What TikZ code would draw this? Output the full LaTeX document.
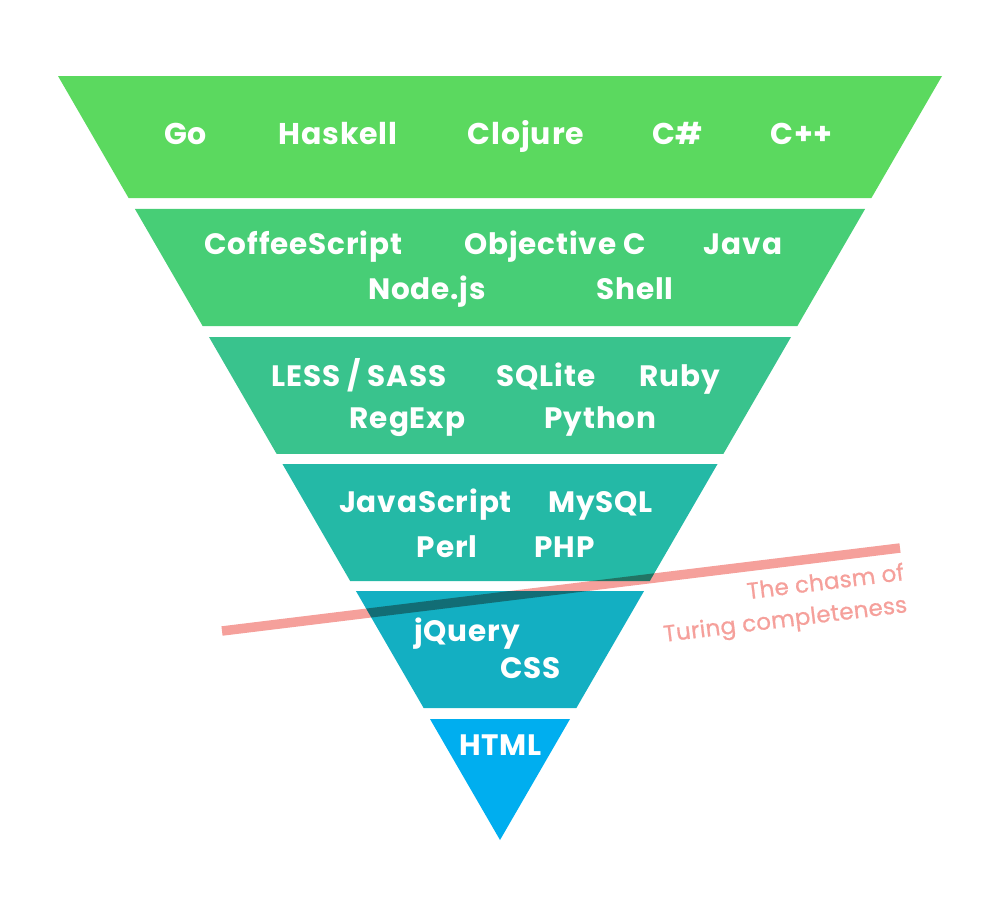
\documentclass[tikz,border=0pt]{standalone}
\usepackage{fontspec}
\setmainfont{Poppins}
\newfontfamily\labfont[LetterSpace=3]{Poppins}
\newfontfamily\chasmfont[FakeBold=0.8,LetterSpace=1]{Poppins}
\usetikzlibrary{calc}
\definecolor{bandA}{RGB}{91,217,95}
\definecolor{bandB}{RGB}{71,206,118}
\definecolor{bandC}{RGB}{57,195,141}
\definecolor{bandD}{RGB}{36,185,166}
\definecolor{bandE}{RGB}{19,175,194}
\definecolor{bandF}{RGB}{0,174,239}
\definecolor{chasm}{RGB}{245,160,155}
\tikzset{
  lang/.style={text=white,font=\labfont\bfseries\fontsize{29.5}{33}\selectfont,inner sep=0pt,anchor=base},
  langbig/.style={lang,font=\labfont\bfseries\fontsize{30}{34}\selectfont},
  chasmtext/.style={text=chasm,font=\chasmfont\fontsize{23}{26}\selectfont,inner sep=0pt,rotate=7,anchor=base east},
}
\newcommand{\bandshape}[3]{%
  \fill[#3] ($(L)!{(#1-76)/764}!(A)$) -- ($(R)!{(#1-76)/764}!(A)$)
    -- ($(R)!{(#2-76)/764}!(A)$) -- ($(L)!{(#2-76)/764}!(A)$) -- cycle;}
\begin{document}
\begin{tikzpicture}[x=1pt,y=-1pt]
\useasboundingbox (0,0) rectangle (1000,900);
\coordinate (L) at (58,76);
\coordinate (R) at (942,76);
\coordinate (A) at (500,840);
\bandshape{76}{198}{bandA}
\bandshape{209}{326}{bandB}
\bandshape{337}{454}{bandC}
\bandshape{464}{581}{bandD}
\bandshape{591}{708}{bandE}
\fill[bandF] ($(L)!{(719-76)/764}!(A)$) -- ($(R)!{(719-76)/764}!(A)$) -- (A) -- cycle;
% band 1
\node[langbig] (go) at (185.5,144) {Go};
\node[langbig] (haskell) at (338,144) {Haskell};
\node[langbig] (clojure) at (526,144) {Clojure};
\node[langbig] (csharp) at (677.5,144) {C\#};
\node[langbig] (cpp) at (801.5,144) {C++};
% band 2
\node[lang] (coffee) at (303.5,254) {CoffeeScript};
\node[lang] (objc) at (555,254) {Objective C};
\node[lang] (java) at (743,254) {Java};
\node[lang] (node) at (427,299) {Node.js};
\node[lang] (shell) at (635,299) {Shell};
% band 3
\node[lang] (less) at (359,386) {LESS / SASS};
\node[lang] (sqlite) at (546,386) {SQLite};
\node[lang] (ruby) at (680,386) {Ruby};
\node[lang] (regexp) at (407.5,428) {RegExp};
\node[lang] (python) at (600.5,428) {Python};
% band 4
\node[lang] (js) at (425.5,512) {JavaScript};
\node[lang] (mysql) at (600.5,512) {MySQL};
\node[lang] (perl) at (447,557) {Perl};
\node[lang] (php) at (564.5,557) {PHP};
% band 5
\node[lang] (jquery) at (467,641) {jQuery};
\node[lang] (css) at (530.5,678) {CSS};
% band 6
\node[lang] (html) at (500.5,755) {HTML};
% chasm
\coordinate (c1) at (222,631);
\coordinate (c2) at (900,548);
\begin{scope}[blend mode=multiply]
\draw[chasm,line width=9.5pt] (c1) -- (c2);
\end{scope}
\node[chasmtext] (chasm1) at (905,580) {The chasm of};
\node[chasmtext] (chasm2) at (908,612) {Turing completeness};
\end{tikzpicture}
\end{document}
